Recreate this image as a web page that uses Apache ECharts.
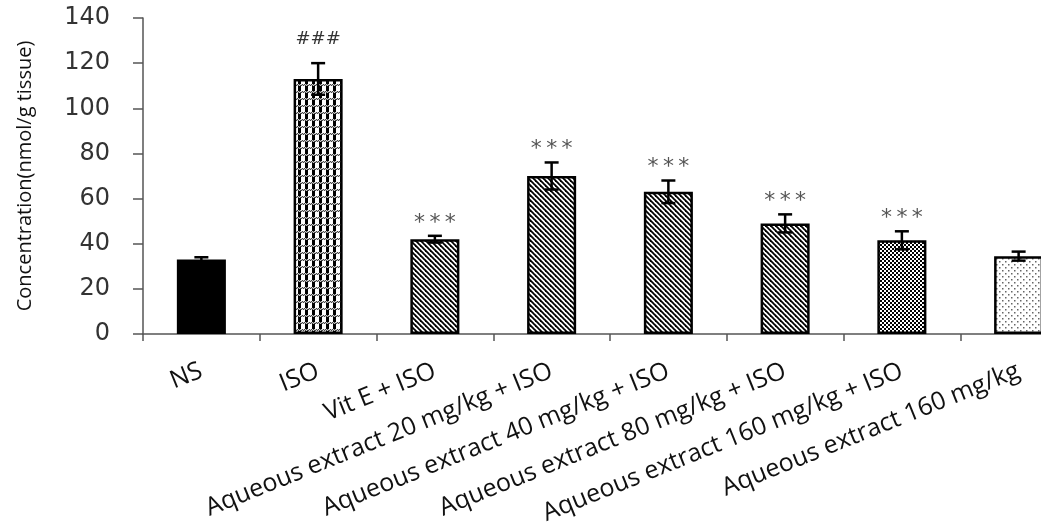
<!DOCTYPE html>
<html>
<head>
<meta charset="utf-8">
<script src="https://cdn.jsdelivr.net/npm/echarts@6/dist/echarts.min.js"></script>
<style>
  html, body { margin: 0; padding: 0; background: #fff; overflow: hidden; }
  #chart { width: 1077px; height: 530px; }
</style>
</head>
<body>
<div id="chart"></div>
<script>
// data
const categories = ['NS', 'ISO', 'Vit E + ISO', 'Aqueous extract 20 mg/kg + ISO',
  'Aqueous extract 40 mg/kg + ISO', 'Aqueous extract 80 mg/kg + ISO',
  'Aqueous extract 160 mg/kg + ISO', 'Aqueous extract 160 mg/kg']
const means = [33, 113, 42, 70, 63, 49, 41.5, 34.5]
const errors = [1, 7, 1.5, 6, 5, 4, 4, 2]
const marks = ['', '###', '*\u2009*\u2009*', '*\u2009*\u2009*', '*\u2009*\u2009*', '*\u2009*\u2009*', '*\u2009*\u2009*', '']
const patternKeys = ['solid', 'grid', 'hatch', 'hatch', 'hatch', 'hatch', 'checker', 'dots']

// small tiles used as bar fills
function makeTile(kind) {
  const c = document.createElement('canvas')
  const ctx = c.getContext('2d')
  if (kind === 'hatch') {
    c.width = 5; c.height = 5
    ctx.fillStyle = '#fff'; ctx.fillRect(0, 0, 5, 5)
    ctx.strokeStyle = '#000'; ctx.lineWidth = 1.8
    for (let k = -5; k <= 5; k += 5) {
      ctx.beginPath(); ctx.moveTo(k - 1, -1); ctx.lineTo(k + 6, 6); ctx.stroke()
    }
  } else if (kind === 'grid') {
    c.width = 7; c.height = 7
    ctx.fillStyle = '#fff'; ctx.fillRect(0, 0, 7, 7)
    ctx.fillStyle = '#000'; ctx.fillRect(4, 2, 3, 5)
    ctx.fillStyle = '#444'; ctx.fillRect(0, 0, 7, 2)
    ctx.fillStyle = '#ccc'
    ctx.fillRect(0, 0, 1, 1); ctx.fillRect(2, 0, 1, 1); ctx.fillRect(4, 0, 1, 1); ctx.fillRect(6, 0, 1, 1)
    ctx.fillRect(1, 1, 1, 1); ctx.fillRect(3, 1, 1, 1); ctx.fillRect(5, 1, 1, 1)
  } else if (kind === 'checker') {
    c.width = 4; c.height = 4
    ctx.fillStyle = '#fff'; ctx.fillRect(0, 0, 4, 4)
    ctx.fillStyle = '#000'; ctx.fillRect(0, 0, 2, 2); ctx.fillRect(2, 2, 2, 2)
  } else {
    c.width = 6; c.height = 6
    ctx.fillStyle = '#fff'; ctx.fillRect(0, 0, 6, 6)
    ctx.fillStyle = '#666'; ctx.fillRect(0, 0, 1.5, 1.5); ctx.fillRect(3, 3, 1.5, 1.5)
  }
  return { image: c, repeat: 'repeat' }
}

const fills = {
  solid: '#000',
  grid: makeTile('grid'),
  hatch: makeTile('hatch'),
  checker: makeTile('checker'),
  dots: makeTile('dots')
}

const chart = echarts.init(document.getElementById('chart'), null, { renderer: 'canvas' })

const option = {
  animation: false,
  backgroundColor: '#fff',
  grid: { left: 143, right: 0, top: 18, bottom: 196, containLabel: false },
  xAxis: {
    type: 'category',
    data: categories,
    axisLine: { lineStyle: { color: '#555', width: 1.5 } },
    axisTick: { show: true, length: 7, lineStyle: { color: '#555', width: 1.5 } },
    axisLabel: {
      interval: 0, rotate: 22, margin: 36,
      fontFamily: 'Open Sans', fontSize: 25, color: '#111'
    },
    splitLine: { show: false }
  },
  yAxis: {
    type: 'value',
    min: 0, max: 140, interval: 20,
    name: 'Concentration(nmol/g tissue)',
    nameLocation: 'middle',
    nameGap: 108,
    nameTextStyle: { fontFamily: 'Open Sans', fontSize: 20, color: '#111' },
    axisLine: { show: true, lineStyle: { color: '#555', width: 1.5 } },
    axisTick: { show: true, length: 10, lineStyle: { color: '#555', width: 1.5 } },
    axisLabel: { margin: 33, fontFamily: 'DejaVu Sans', fontSize: 24, color: '#333' },
    splitLine: { show: false }
  },
  series: [
    {
      type: 'bar',
      barWidth: '42%',
      data: means.map((v, i) => ({
        value: v,
        itemStyle: { color: fills[patternKeys[i]], borderColor: '#000', borderWidth: 2.5 }
      })),
      z: 2
    },
    {
      type: 'custom',
      z: 3,
      data: means.map((v, i) => [i, v, errors[i]]),
      renderItem: function (params, api) {
        const i = api.value(0)
        const m = api.value(1)
        const e = api.value(2)
        const top = api.coord([i, m + e])
        const bot = api.coord([i, m - e])
        const half = 7
        const style = { stroke: '#000', lineWidth: 2.5 }
        const children = [
          { type: 'line', shape: { x1: top[0], y1: top[1], x2: bot[0], y2: bot[1] }, style },
          { type: 'line', shape: { x1: top[0] - half, y1: top[1], x2: top[0] + half, y2: top[1] }, style },
          { type: 'line', shape: { x1: bot[0] - half, y1: bot[1], x2: bot[0] + half, y2: bot[1] }, style }
        ]
        const mark = marks[params.dataIndex]
        if (mark) {
          const isHash = mark.indexOf('#') >= 0
          children.push({
            type: 'text',
            style: {
              text: mark,
              x: top[0],
              y: isHash ? top[1] - 24 : top[1] - 13,
              align: 'center',
              verticalAlign: 'middle',
              font: isHash ? '18px "DejaVu Sans"' : '22px "DejaVu Sans"',
              fill: isHash ? '#333' : '#555'
            }
          })
        }
        return { type: 'group', children }
      }
    }
  ]
}

chart.setOption(option)
</script>
</body>
</html>
